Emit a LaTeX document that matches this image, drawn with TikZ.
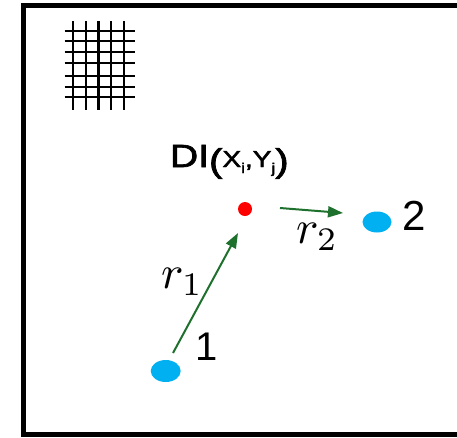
\documentclass[tikz,border=0pt]{standalone}
\usepackage{fontspec}
\newfontfamily\arial{Liberation Sans}
\newfontfamily\arialthick[FakeBold=2]{Liberation Sans}
\usetikzlibrary{shapes.geometric,arrows.meta}
\definecolor{arrowgreen}{RGB}{30,112,45}
\definecolor{dotblue}{RGB}{0,176,240}
\definecolor{dotred}{RGB}{255,0,0}
\tikzset{
  frame/.style={line width=5pt, line join=miter},
  gridline/.style={line width=2.2pt},
  site/.style={ellipse, fill=dotblue, inner sep=0pt, minimum width=30pt, minimum height=22pt},
  target/.style={circle, fill=dotred, inner sep=0pt, minimum size=14pt},
  vec/.style={draw=arrowgreen, line width=2pt, -{Triangle[length=15pt,width=11pt]}},
  lbl/.style={inner sep=0pt, outer sep=0pt, anchor=base west},
}
\begin{document}
\begin{tikzpicture}[x=1pt,y=-1pt]
\useasboundingbox (0,0) rectangle (457,437);
% frame (right side off the picture)
\draw[frame] (457,5.8) -- (23.5,5.8) -- (23.5,434.5) -- (457,434.5);
% grid
\foreach \gx in {73.3,86,98.5,111,124} \draw[gridline] (\gx,21) -- (\gx,110);
\foreach \gy in {31,41,51.7,63.3,76,86.7,97} \draw[gridline] (64.5,\gy) -- (134.5,\gy);
% points
\node[site] (p1) at (165.7,371) {};
\node[site, minimum width=29pt, minimum height=21pt] (p2) at (377,222) {};
\node[target] (di) at (245,209) {};
% labels
\node[lbl] (t1) at (195.6,360) {\arial\fontsize{40}{40}\selectfont 1};
\node[lbl] (t2) at (402,230) {\arial\fontsize{42}{42}\selectfont 2};
\node[lbl] (tdi) at (170,167) {\scalebox{1.22}[1]{\arialthick\fontsize{32}{32}\selectfont DI{\fontsize{33}{33}\selectfont\raisebox{-5pt}{(}}{\fontsize{23}{23}\selectfont X}\raisebox{-6pt}{\fontsize{14}{14}\selectfont i}{\fontsize{23}{23}\selectfont ,Y}\raisebox{-6pt}{\fontsize{14}{14}\selectfont j}{\fontsize{33}{33}\selectfont\raisebox{-5pt}{)}}}};
\node[lbl] (tr1) at (161,288) {\scalebox{4.7}{$r_1$}};
\node[lbl] (tr2) at (296,243) {\scalebox{4.7}{$r_2$}};
% arrows
\coordinate (a1s) at (173,353);
\coordinate (a1e) at (238,233);
\coordinate (a2s) at (280,208);
\coordinate (a2e) at (343,213);
\draw[vec] (a1s) -- (a1e);
\draw[vec] (a2s) -- (a2e);
\end{tikzpicture}
\end{document}
